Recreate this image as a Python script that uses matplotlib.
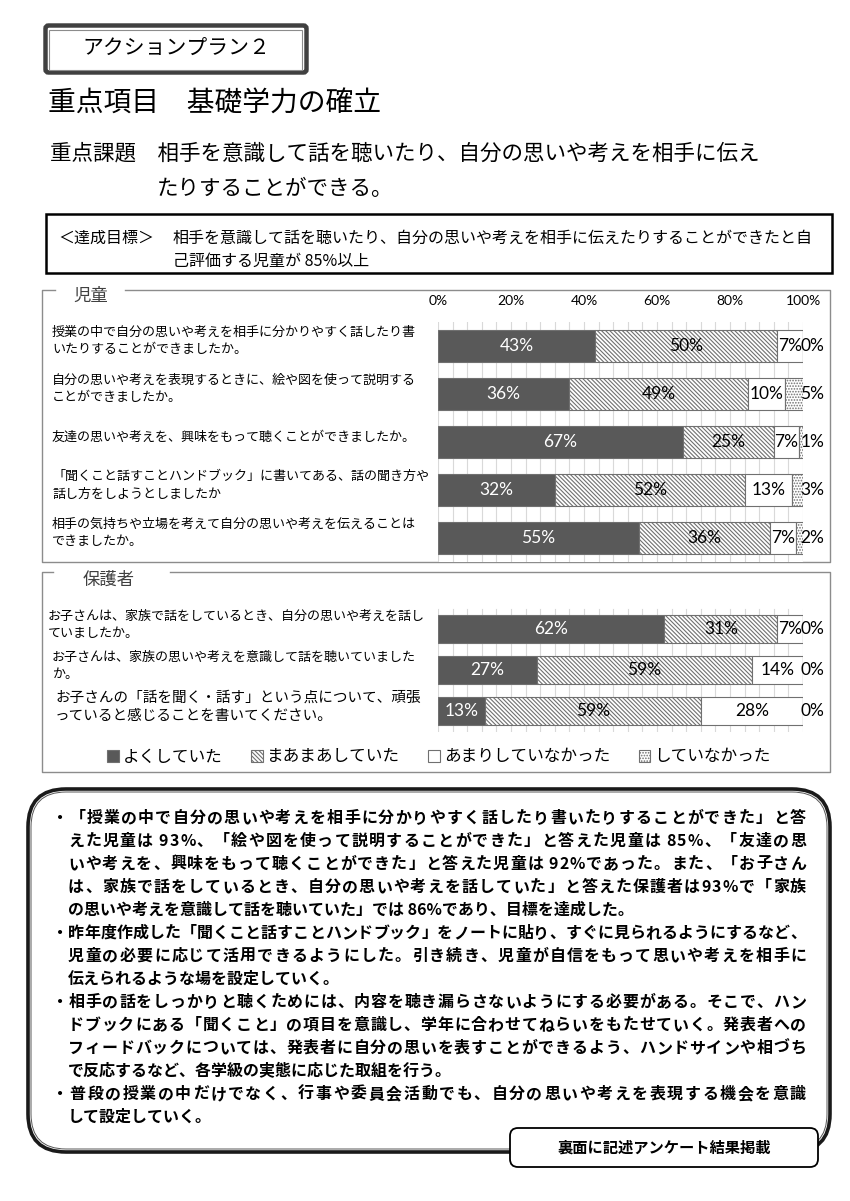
import matplotlib.pyplot as plt
from matplotlib.patches import Rectangle, FancyBboxPatch
from matplotlib.font_manager import FontProperties
from matplotlib import transforms
import numpy as np

plt.rcParams['font.family'] = ['Noto Sans CJK JP', 'DejaVu Sans']
plt.rcParams['hatch.linewidth'] = 0.8

W, H = 850, 1201

# ------------------------------------------------------------
# data
# ------------------------------------------------------------
answer_names = ['よくしていた', 'まあまあしていた', 'あまりしていなかった', 'していなかった']

child_questions = [
    '授業の中で自分の思いや考えを相手に分かりやすく話したり書\nいたりすることができましたか。',
    '自分の思いや考えを表現するときに、絵や図を使って説明する\nことができましたか。',
    '友達の思いや考えを、興味をもって聴くことができましたか。',
    '「聞くこと話すことハンドブック」に書いてある、話の聞き方や\n話し方をしようとしましたか',
    '相手の気持ちや立場を考えて自分の思いや考えを伝えることは\nできましたか。',
]
child_good = [43, 36, 67, 32, 55]
child_fair = [50, 49, 25, 52, 36]
child_rare = [7, 10, 7, 13, 7]
child_never = [0, 5, 1, 3, 2]

parent_questions = [
    'お子さんは、家族で話をしているとき、自分の思いや考えを話し\nていましたか。',
    'お子さんは、家族の思いや考えを意識して話を聴いていました\nか。',
    'お子さんの「話を聞く・話す」という点について、頑張\nっていると感じることを書いてください。',
]
parent_good = [62, 27, 13]
parent_fair = [31, 59, 59]
parent_rare = [7, 14, 28]
parent_never = [0, 0, 0]

tick_labels = ['0%', '20%', '40%', '60%', '80%', '100%']

summary_paragraphs = [
    ['・「授業の中で自分の思いや考えを相手に分かりやすく話したり書いたりすることができた」と答',
     'えた児童は 93%、「絵や図を使って説明することができた」と答えた児童は 85%、「友達の思',
     'いや考えを、興味をもって聴くことができた」と答えた児童は 92%であった。また、「お子さん',
     'は、家族で話をしているとき、自分の思いや考えを話していた」と答えた保護者は93%で「家族',
     'の思いや考えを意識して話を聴いていた」では 86%であり、目標を達成した。'],
    ['・昨年度作成した「聞くこと話すことハンドブック」をノートに貼り、すぐに見られるようにするなど、',
     '児童の必要に応じて活用できるようにした。引き続き、児童が自信をもって思いや考えを相手に',
     '伝えられるような場を設定していく。'],
    ['・相手の話をしっかりと聴くためには、内容を聴き漏らさないようにする必要がある。そこで、ハン',
     'ドブックにある「聞くこと」の項目を意識し、学年に合わせてねらいをもたせていく。発表者への',
     'フィードバックについては、発表者に自分の思いを表すことができるよう、ハンドサインや相づち',
     'で反応するなど、各学級の実態に応じた取組を行う。'],
    ['・普段の授業の中だけでなく、行事や委員会活動でも、自分の思いや考えを表現する機会を意識',
     'して設定していく。'],
]

# ------------------------------------------------------------
# page
# ------------------------------------------------------------
fig = plt.figure(figsize=(W / 100, H / 100), dpi=100)
bg = fig.add_axes([0, 0, 1, 1])
bg.set_xlim(0, W)
bg.set_ylim(H, 0)
bg.axis('off')


def px_rect(x0, y0, x1, y1):
    return [x0 / W, 1 - y1 / H, (x1 - x0) / W, (y1 - y0) / H]


# title box
bg.add_patch(FancyBboxPatch((45.5, 25.5), 261, 47, boxstyle='round,pad=0,rounding_size=3',
                            fc='white', ec='#404040', lw=3.2))
bg.add_patch(Rectangle((49.5, 29.5), 253, 40, fill=False, ec='#8c8c8c', lw=0.8))
bg.text(176, 48, 'アクションプラン２', fontsize=15, ha='center', va='center')

bg.text(48, 104, '重点項目　基礎学力の確立', fontsize=20, ha='left', va='center')
bg.text(50, 153, '重点課題　相手を意識して話を聴いたり、自分の思いや考えを相手に伝え',
        fontsize=15.5, ha='left', va='center')
bg.text(157, 189, 'たりすることができる。', fontsize=15.5, ha='left', va='center')

# goal box
bg.add_patch(Rectangle((46, 214), 786, 59, fill=False, ec='black', lw=1.8))
bg.text(58, 238, '＜達成目標＞', fontsize=11.5, ha='left', va='center')
bg.text(173, 238, '相手を意識して話を聴いたり、自分の思いや考えを相手に伝えたりすることができたと自',
        fontsize=11.5, ha='left', va='center')
bg.text(173, 261, '己評価する児童が 85%以上', fontsize=11.5, ha='left', va='center')

# panel frames
frame_c = '#8c8c8c'
bg.plot([55, 42, 42, 830, 830, 125], [290, 290, 562, 562, 290, 290], color=frame_c, lw=1)
bg.text(73, 296, '児童', fontsize=12.5, color='#404040', ha='left', va='center')
bg.plot([53, 42, 42, 830, 830, 170], [572, 572, 772, 772, 572, 572], color=frame_c, lw=1)
bg.text(83, 580, '保護者', fontsize=12.5, color='#404040', ha='left', va='center')

# ------------------------------------------------------------
# bar charts
# ------------------------------------------------------------
seg_colors = ['#595959', 'white', 'white', 'white']
seg_hatches = [None, '\\\\\\\\\\\\\\\\', None, '......']
num_font = ['Lato', 'DejaVu Sans']


def draw_bars(ax, questions, series, q_size, q_x):
    n = len(questions)
    y = np.arange(n)
    left = np.zeros(n)
    containers = []
    for k, vals in enumerate(series):
        vals = np.array(vals, dtype=float)
        bars = ax.barh(y, vals, left=left, height=0.66, color=seg_colors[k], hatch=seg_hatches[k],
                       edgecolor='#707070', linewidth=0.8, label=answer_names[k], zorder=2)
        containers.append(bars)
        for i in range(n):
            if k < 3:
                xc = left[i] + vals[i] / 2
            else:
                xc = 102.6
            ax.text(xc, y[i], f'{int(vals[i])}%', ha='center', va='center', fontsize=12.5,
                    family=num_font, color='white' if k == 0 else 'black', zorder=3, clip_on=False)
        left += vals
    ax.set_xlim(0, 100)
    ax.set_ylim(n - 0.5, -0.5)
    ax.set_xticks(np.arange(0, 101, 4), minor=True)
    ax.set_xticks(np.arange(0, 101, 20))
    ax.grid(True, axis='x', which='both', color='#d9d9d9', lw=0.8)
    ax.set_axisbelow(True)
    ax.set_yticks([])
    for s in ax.spines.values():
        s.set_visible(False)
    ax.tick_params(which='both', length=0)
    tr = transforms.blended_transform_factory(ax.transAxes, ax.transData)
    for i, q in enumerate(questions):
        ax.text(q_x[i], y[i] - 0.1, q, transform=tr, ha='left', va='center',
                fontsize=q_size[i], linespacing=1.45, clip_on=False)
    return containers


ax_c = fig.add_axes(px_rect(438, 322, 803, 562))
cont = draw_bars(ax_c, child_questions, [child_good, child_fair, child_rare, child_never],
                 [9.4] * 5, [(52 - 438) / 365] * 5)
ax_c.xaxis.tick_top()
ax_c.set_xticklabels(tick_labels, family=num_font, fontsize=10)
ax_c.tick_params(axis='x', pad=11)

ax_p = fig.add_axes(px_rect(438, 608.5, 803, 731.5))
draw_bars(ax_p, parent_questions, [parent_good, parent_fair, parent_rare, parent_never],
          [9.4, 9.4, 10.5], [(48 - 438) / 365, (52 - 438) / 365, (55 - 438) / 365])
ax_p.set_xticklabels([])

fig.legend([c.patches[0] for c in cont], answer_names, loc='center',
           bbox_to_anchor=(439 / W, 1 - 757 / H), ncol=4, frameon=False, fontsize=12,
           handlelength=0.7, handleheight=0.7, handletextpad=0.25, columnspacing=1.7)

# ------------------------------------------------------------
# summary box
# ------------------------------------------------------------
bg.add_patch(FancyBboxPatch((28, 789), 802, 363, boxstyle='round,pad=0,rounding_size=38',
                            fc='none', ec='#1a1a1a', lw=2.6))
bg.add_patch(FancyBboxPatch((31, 792), 796, 357, boxstyle='round,pad=0,rounding_size=35',
                            fc='none', ec='#555555', lw=0.7))

renderer = fig.canvas.get_renderer()
prop = FontProperties(family=['Noto Sans CJK JP', 'DejaVu Sans'], size=11.5, weight='bold')
x_right = 806
line_y = 817
for para in summary_paragraphs:
    for j, line in enumerate(para):
        x0 = 52 if j == 0 else 68
        base = line_y + 6
        if j < len(para) - 1:
            widths = [renderer.get_text_width_height_descent(ch, prop, ismath=False)[0]
                      for ch in line]
            gap = (x_right - x0 - sum(widths)) / (len(line) - 1)
            x = x0
            for ch, w in zip(line, widths):
                if ch != ' ':
                    bg.text(x, base, ch, fontproperties=prop, ha='left', va='baseline')
                x += w + gap
        else:
            bg.text(x0, base, line, fontproperties=prop, ha='left', va='baseline')
        line_y += 23

bg.add_patch(FancyBboxPatch((510, 1128), 308, 39, boxstyle='round,pad=0,rounding_size=8',
                            fc='white', ec='black', lw=1.3, zorder=3))
bg.text(664, 1148, '裏面に記述アンケート結果掲載', fontsize=11, weight='bold',
        ha='center', va='center', zorder=4)

fig.savefig('out.png', dpi=100, facecolor='white')
